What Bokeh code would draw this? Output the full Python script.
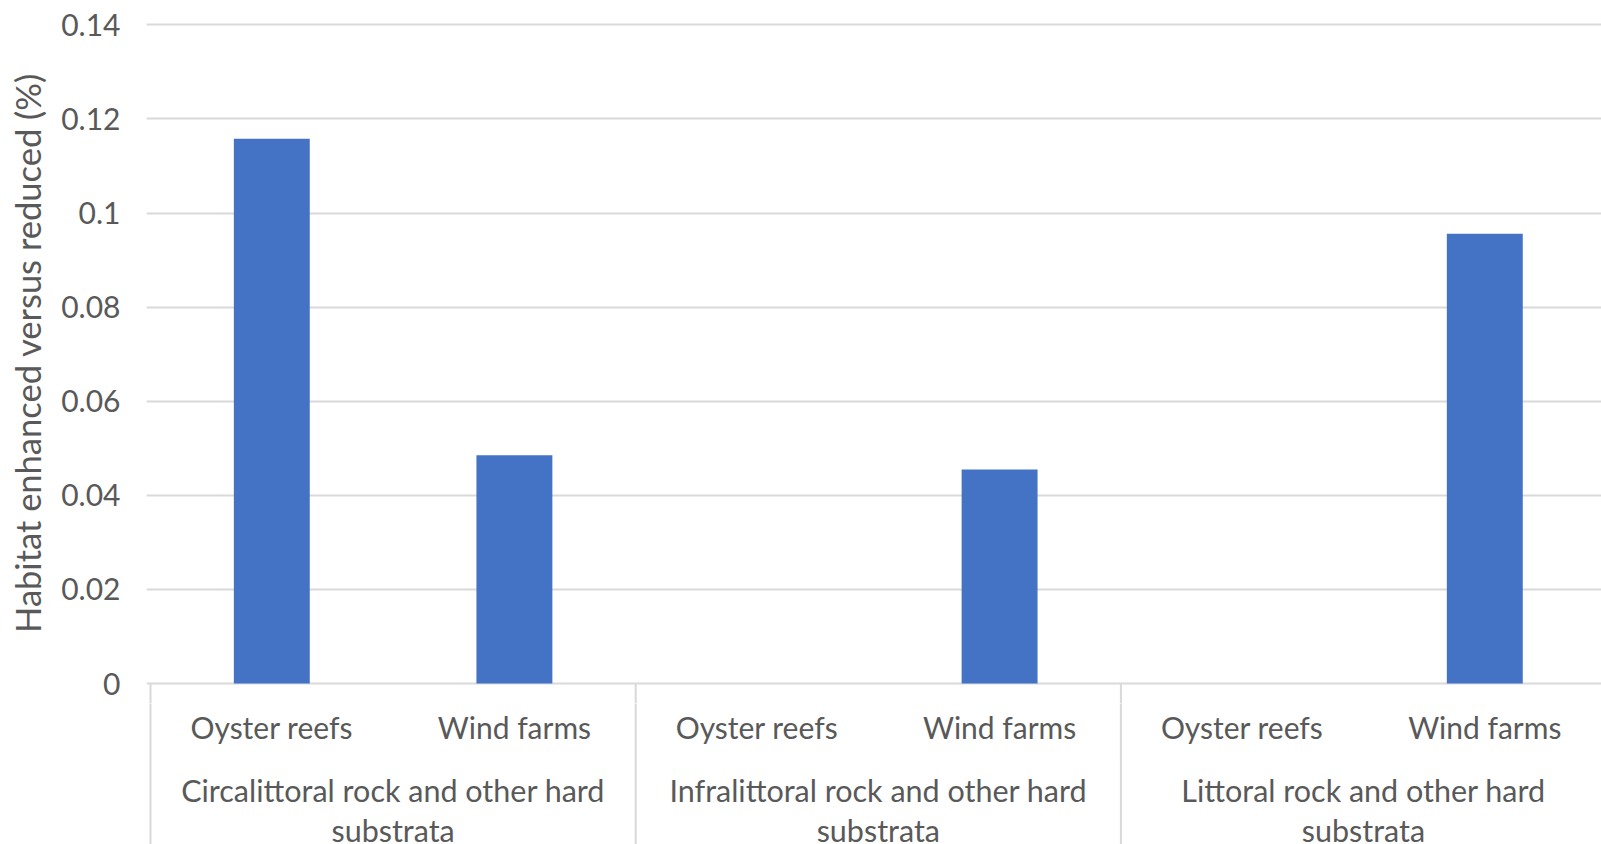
import textwrap
from bokeh.plotting import figure
from bokeh.layouts import column
from bokeh.models import Range1d, FixedTicker, ColumnDataSource
from bokeh.core.properties import value
from bokeh.embed import file_html
from bokeh.resources import INLINE

# ---- data ----
groups = [
    "Circalittoral rock and other hard substrata",
    "Infralittoral rock and other hard substrata",
    "Littoral rock and other hard substrata",
]
subcats = ["Oyster reefs", "Wind farms"]
values = [0.1158, 0.0485, 0.0, 0.0455, 0.0, 0.0956]
y_ticks = [0, 0.02, 0.04, 0.06, 0.08, 0.1, 0.12, 0.14]
y_tick_labels = ["0", "0.02", "0.04", "0.06", "0.08", "0.1", "0.12", "0.14"]
y_title = "Habitat enhanced versus reduced (%)"

# ---- layout / style ----
W, H = 1601, 844
FONT = "Lato"
FS = "30px"
GFS = "30.5px"
TFS = "34.5px"
TXT = "#595959"
GRID = "#d9d9d9"
BAR = "#4472C4"
cat_px = 242.6          # pixels per category
px_per_unit = 4705.0    # pixels per y unit
zero_px = 683           # y pixel of zero line
frame_top = 2
H1 = zero_px + 20       # height of the main figure
H2 = H - H1             # height of the category-label strip
pad_px = 4
frame_left = 150 - pad_px

n_cat = len(groups) * len(subcats)
x_start = -pad_px / cat_px
x_end = (W - frame_left) / cat_px + x_start
xr = Range1d(x_start, x_end)

y_top = (zero_px - frame_top) / px_per_unit
y_bot = -(H1 - zero_px) / px_per_unit
y_floor = -(H - zero_px) / px_per_unit

p = figure(width=W, height=H1, x_range=xr, y_range=Range1d(y_bot, y_top),
           output_backend="svg", toolbar_location=None,
           x_axis_location=None,
           min_border_left=frame_left, min_border_right=0,
           min_border_top=frame_top, min_border_bottom=0)
p.outline_line_color = None
p.background_fill_color = "white"
p.border_fill_color = "white"
p.xgrid.visible = False

ax = p.yaxis[0]
ax.ticker = FixedTicker(ticks=y_ticks)
ax.major_label_overrides = dict(zip(y_ticks, y_tick_labels))
ax.axis_line_color = None
ax.major_tick_line_color = None
ax.minor_tick_line_color = None
ax.major_tick_out = 0
ax.major_tick_in = 0
ax.major_label_standoff = 26
ax.major_label_text_font = FONT
ax.major_label_text_font_size = FS
ax.major_label_text_color = TXT
ax.axis_label = y_title
ax.axis_label_text_font = FONT
ax.axis_label_text_font_size = TFS
ax.axis_label_text_font_style = "normal"
ax.axis_label_text_color = TXT
ax.axis_label_standoff = 10

p.ygrid.grid_line_color = GRID
p.ygrid.grid_line_width = 2

centers = [i + 0.5 for i in range(n_cat)]
sub_flat = [s for g in groups for s in subcats]

src = ColumnDataSource(dict(x=centers, top=values, label=sub_flat))
p.vbar(x="x", top="top", bottom=0, width=0.313, source=src,
       fill_color=BAR, line_color=None)

# ---- category strip below the axis ----
q = figure(width=W, height=H2, x_range=xr,
           y_range=Range1d(y_floor, y_bot),
           output_backend="svg", toolbar_location=None,
           x_axis_location=None, y_axis_location=None,
           min_border_left=frame_left, min_border_right=0,
           min_border_top=0, min_border_bottom=0)
q.outline_line_color = None
q.background_fill_color = "white"
q.border_fill_color = "white"
q.xgrid.visible = False
q.ygrid.visible = False

# group separators (span both figures, clipped to each frame)
bounds = [g * len(subcats) for g in range(len(groups))]
for fig in (p, q):
    fig.segment(x0=bounds, y0=[0] * len(bounds), x1=bounds,
                y1=[y_floor] * len(bounds), line_color=GRID, line_width=2)

# sub-category labels
offset0 = (H1 - zero_px)
q.text(x="x", y=y_bot, text="label", source=src, text_align="center",
       text_baseline="middle", y_offset=43 - offset0, text_font=value(FONT),
       text_font_size=FS, text_color=TXT)

# group labels (wrapped)
gcent = [g * len(subcats) + len(subcats) / 2 for g in range(len(groups))]
wrapped = [textwrap.wrap(g, 33) for g in groups]
for li in range(2):
    q.text(x=gcent, y=[y_bot] * len(gcent),
           text=[w[li] if li < len(w) else "" for w in wrapped],
           text_align="center", text_baseline="middle",
           y_offset=106 + 40 * li - offset0,
           text_font=value(FONT), text_font_size=GFS, text_color=TXT)

layout = column(p, q, spacing=0)
open("out.html", "w").write(file_html(layout, INLINE))
